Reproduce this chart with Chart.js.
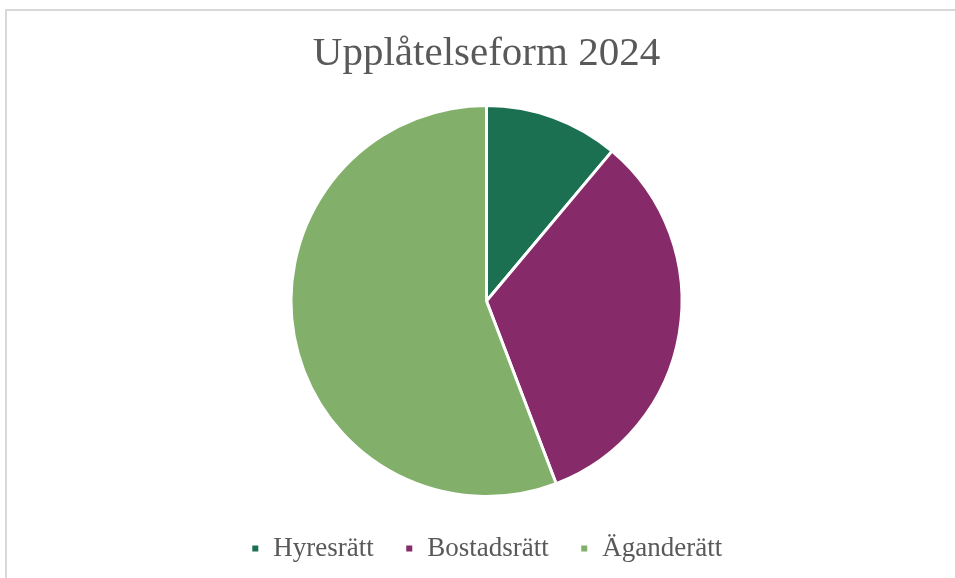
<!DOCTYPE html>
<html>
<head>
<meta charset="utf-8">
<script src="https://cdn.jsdelivr.net/npm/chart.js@4"></script>
<style>
  html, body { margin: 0; padding: 0; background: #ffffff; overflow: hidden; width: 955px; height: 578px; }
  #frame { position: absolute; left: 5px; top: 9px; width: 2000px; height: 2000px; border: 2px solid #d9d9d9; box-sizing: border-box; }
  #wrap { position: absolute; left: 0; top: 0; width: 955px; height: 578px; }
</style>
</head>
<body>
<div id="frame"></div>
<div id="wrap"><canvas id="c" width="955" height="578"></canvas></div>
<script>
const titleText = "Upplåtelseform 2024";
const categories = ["Hyresrätt", "Bostadsrätt", "Äganderätt"];
const shares = [11.1, 33.1, 55.8];
const sliceColors = ["#1B7052", "#862A69", "#82B06A"];

const textColor = "#595959";
const serif = "'Liberation Serif', 'DejaVu Serif', serif";

new Chart(document.getElementById("c"), {
  type: "pie",
  data: {
    labels: categories,
    datasets: [{
      data: shares,
      backgroundColor: sliceColors,
      borderColor: "#ffffff",
      borderWidth: 3
    }]
  },
  options: {
    responsive: false,
    animation: false,
    events: [],
    layout: { padding: { left: 18, right: 0, top: 0, bottom: 6 } },
    plugins: {
      tooltip: { enabled: false },
      title: {
        display: true,
        text: titleText,
        color: textColor,
        font: { family: serif, size: 41, weight: "normal" },
        padding: { top: 30, bottom: 24.8 }
      },
      legend: {
        display: true,
        position: "bottom",
        title: {
          display: true,
          text: "",
          font: { family: serif, size: 6, lineHeight: 1 },
          padding: 0
        },
        labels: {
          color: textColor,
          font: { family: serif, size: 27 },
          boxWidth: 9,
          boxHeight: 9,
          padding: 31
        }
      }
    }
  }
});
</script>
</body>
</html>
